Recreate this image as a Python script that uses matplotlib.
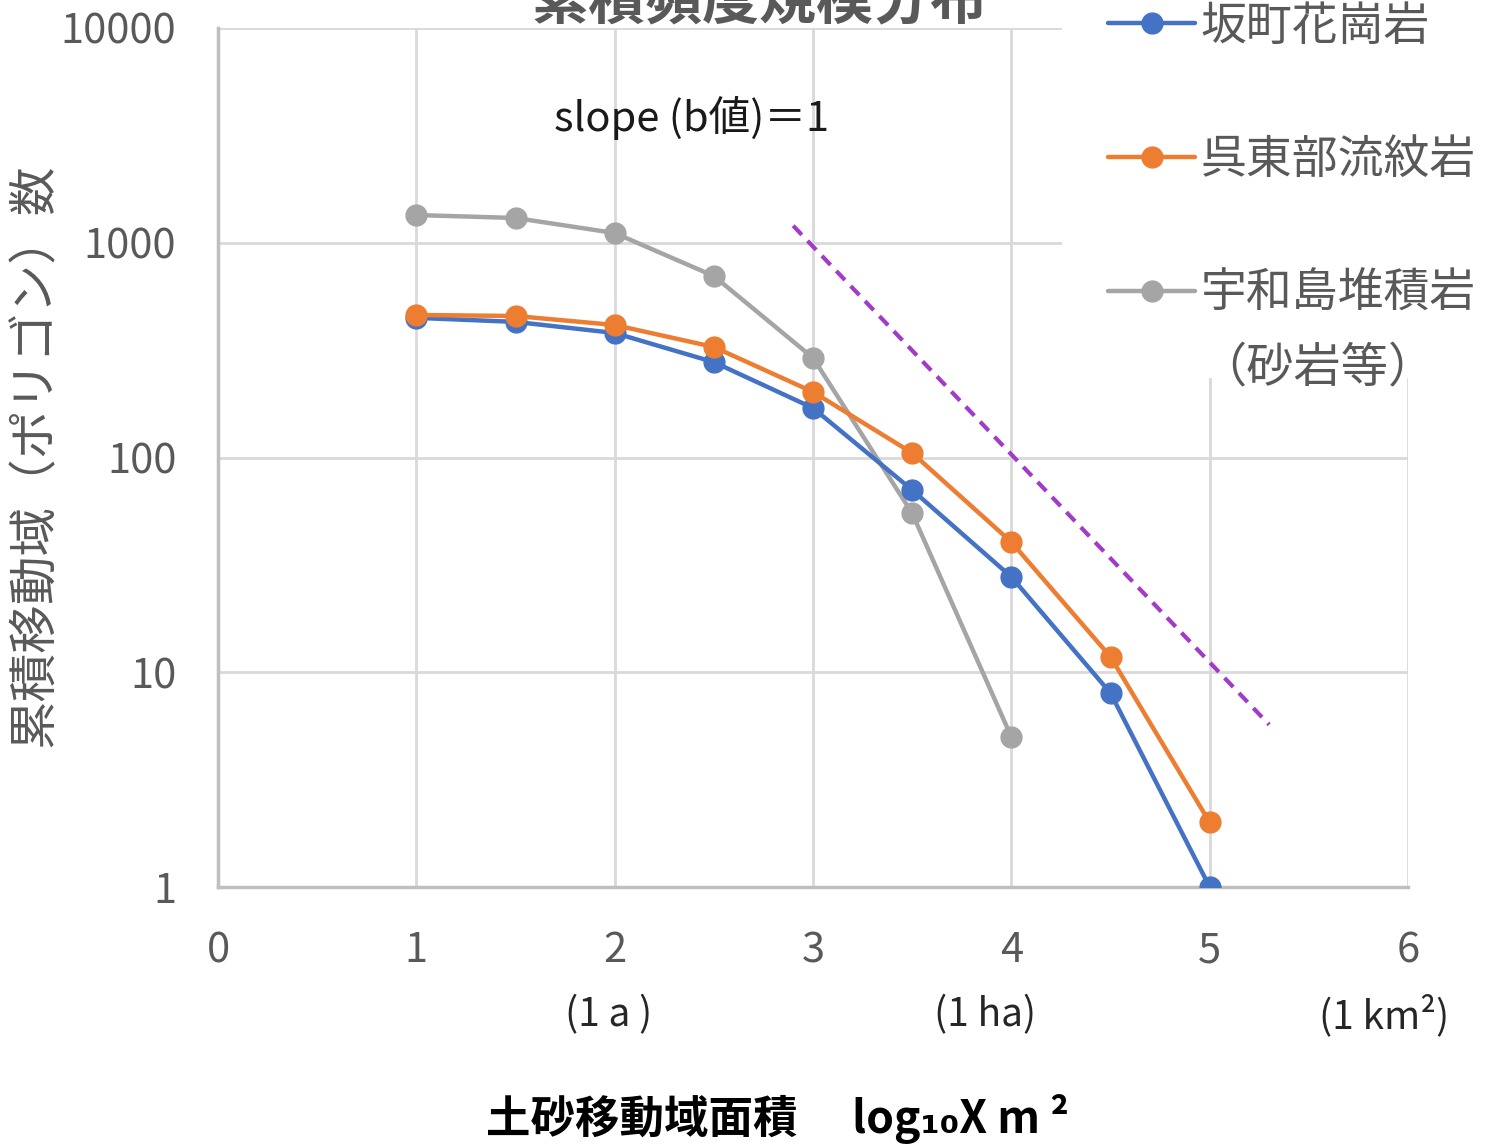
import matplotlib
matplotlib.use("Agg")
import matplotlib.pyplot as plt
from matplotlib.patches import Rectangle

plt.rcParams["font.family"] = ["Noto Sans CJK JP", "DejaVu Sans"]

# data
log_area = [1, 1.5, 2, 2.5, 3, 3.5, 4, 4.5, 5]
sakamachi = [447, 428, 380, 278, 170, 70.6, 27.8, 8.0, 1]
kure_east = [461, 456, 414, 327, 202, 105, 40.4, 11.8, 2]
uwajima_x = [1, 1.5, 2, 2.5, 3, 3.5, 4]
uwajima = [1346, 1304, 1110, 700, 291, 55, 5]
slope_x = [2.9, 5.3]
slope_y = [1200, 5.7]

series_names = ["坂町花崗岩", "呉東部流紋岩", "宇和島堆積岩"]
x_ticks = [0, 1, 2, 3, 4, 5, 6]
y_ticks = [1, 10, 100, 1000, 10000]
unit_pos = [1.97, 3.87, 5.88]
unit_labels = ["(1 a )", "(1 ha)", "(1 km²)"]

BLUE = "#4472C4"
ORANGE = "#ED7D31"
GRAY = "#A5A5A5"
TXT = "#595959"

W, H = 1491, 1147
fig = plt.figure(figsize=(W / 100, H / 100), dpi=100)
ax = fig.add_axes([218 / W, 1 - 887 / H, (1408 - 218) / W, (887 - 28) / H])

style = dict(marker="o", markersize=15, linewidth=3.2, solid_capstyle="round")
l1, = ax.plot(log_area, sakamachi, color=BLUE, label=series_names[0], zorder=3, **style)
l2, = ax.plot(log_area, kure_east, color=ORANGE, label=series_names[1], zorder=4, **style)
l3, = ax.plot(uwajima_x, uwajima, color=GRAY, label=series_names[2], zorder=2, **style)
ax.plot(slope_x, slope_y, color="#A23BC8", linewidth=3, dashes=(3, 2), zorder=5)

ax.set_yscale("log")
ax.set_xlim(0, 6)
ax.set_ylim(1, 10000)
ax.set_xticks(x_ticks)
ax.set_xticklabels([str(t) for t in x_ticks])
ax.set_yticks(y_ticks)
ax.set_yticklabels([str(t) for t in y_ticks])
ax.minorticks_off()
ax.tick_params(axis="both", length=0, labelsize=30, labelcolor=TXT)
ax.tick_params(axis="y", pad=30)
ax.tick_params(axis="x", pad=31)
ax.grid(True, color="#D9D9D9", linewidth=2)
for side in ["top", "right"]:
    ax.spines[side].set_visible(False)
for side in ["left", "bottom"]:
    ax.spines[side].set_color("#BFBFBF")
    ax.spines[side].set_linewidth(2.5)

for pos, lab in zip(unit_pos, unit_labels):
    ax.text(pos, -0.1495, lab, transform=ax.get_xaxis_transform(),
            ha="center", va="center", fontsize=28, color="#262626")

ax.text(0.282, 0.895, "slope (b値)＝1", transform=ax.transAxes,
        ha="left", va="center", fontsize=30, color="#1a1a1a")

# white box behind the legend (covers the gridlines like the original)
fig.patches.append(Rectangle((1062 / W, 1 - 378 / H), 1, 1, transform=fig.transFigure,
                             facecolor="white", edgecolor="none", zorder=1))

fig.legend(handles=[l1, l2, l3], loc="upper left", bbox_to_anchor=(1108 / W, 1 - 2 / H),
           frameon=False, fontsize=33, labelcolor=TXT, handlelength=1.9,
           handletextpad=0.12, labelspacing=1.86, borderpad=0, borderaxespad=0)
fig.text(1317 / W, 1 - 368 / H, "（砂岩等）", ha="center", va="center",
         fontsize=34, color=TXT, zorder=6)

fig.text(760 / W, 1 - 2 / H, "累積頻度規模分布", ha="center", va="center",
         fontsize=41, color=TXT, fontweight="bold")
fig.text(35 / W, 1 - 455 / H, "累積移動域（ポリゴン）数", rotation=90,
         ha="center", va="center", fontsize=35, color=TXT)
fig.text(777 / W, 1 - 1119 / H, "土砂移動域面積　 log₁₀X m ²", ha="center", va="center",
         fontsize=32, color="black", fontweight="bold")

fig.savefig("out.png", dpi=100)
